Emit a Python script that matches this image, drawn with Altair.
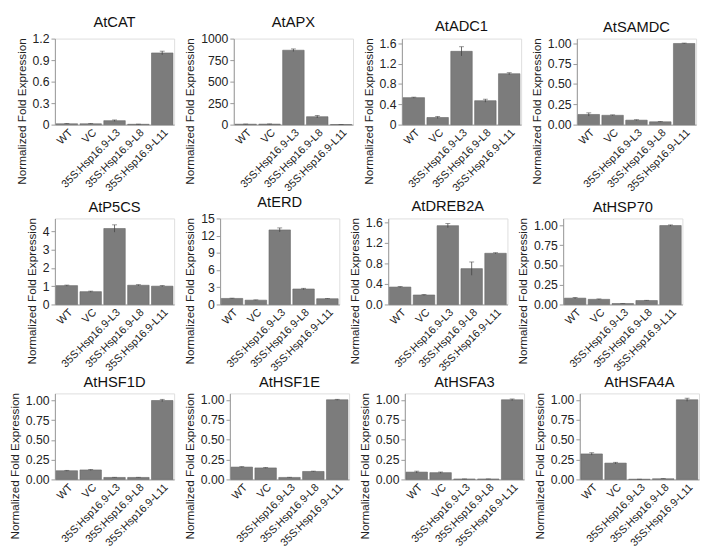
import altair as alt
import pandas as pd

categories = ["WT", "VC", "35S:Hsp16.9-L3", "35S:Hsp16.9-L8", "35S:Hsp16.9-L11"]
genes = ["AtCAT", "AtAPX", "AtADC1", "AtSAMDC",
         "AtP5CS", "AtERD", "AtDREB2A", "AtHSP70",
         "AtHSF1D", "AtHSF1E", "AtHSFA3", "AtHSFA4A"]

mean_CAT = [0.012, 0.012, 0.055, 0.005, 1.0]
err_CAT = [0.004, 0.004, 0.010, 0.002, 0.025]
mean_APX = [5, 6, 865, 92, 1]
err_APX = [2, 2, 15, 15, 0.5]
mean_ADC1 = [0.53, 0.14, 1.44, 0.47, 1.0]
err_ADC1 = [0.01, 0.02, 0.09, 0.03, 0.02]
mean_SAMDC = [0.125, 0.115, 0.055, 0.035, 1.0]
err_SAMDC = [0.02, 0.005, 0.005, 0.004, 0.005]
mean_P5CS = [1.03, 0.70, 4.15, 1.05, 1.0]
err_P5CS = [0.03, 0.03, 0.2, 0.03, 0.03]
mean_ERD = [1.05, 0.75, 13.0, 2.7, 1.0]
err_ERD = [0.05, 0.05, 0.35, 0.12, 0.04]
mean_DREB2A = [0.34, 0.185, 1.54, 0.70, 1.0]
err_DREB2A = [0.01, 0.01, 0.04, 0.13, 0.01]
mean_HSP70 = [0.08, 0.065, 0.012, 0.05, 1.0]
err_HSP70 = [0.008, 0.005, 0.002, 0.003, 0.008]
mean_HSF1D = [0.11, 0.12, 0.025, 0.025, 1.0]
err_HSF1D = [0.005, 0.006, 0.002, 0.002, 0.015]
mean_HSF1E = [0.155, 0.145, 0.025, 0.10, 1.0]
err_HSF1E = [0.005, 0.005, 0.002, 0.004, 0.006]
mean_HSFA3 = [0.092, 0.085, 0.005, 0.005, 1.0]
err_HSFA3 = [0.012, 0.008, 0.001, 0.001, 0.01]
mean_HSFA4A = [0.32, 0.205, 0.002, 0.008, 1.0]
err_HSFA4A = [0.015, 0.01, 0.001, 0.002, 0.02]

means = [mean_CAT, mean_APX, mean_ADC1, mean_SAMDC, mean_P5CS, mean_ERD,
         mean_DREB2A, mean_HSP70, mean_HSF1D, mean_HSF1E, mean_HSFA3, mean_HSFA4A]
errs = [err_CAT, err_APX, err_ADC1, err_SAMDC, err_P5CS, err_ERD,
        err_DREB2A, err_HSP70, err_HSF1D, err_HSF1E, err_HSFA3, err_HSFA4A]

y_max = [1.2, 1000, 1.69, 1.06, 4.7, 15, 1.68, 1.09, 1.09, 1.08, 1.08, 1.08]
y_ticks = [
    [0, 0.3, 0.6, 0.9, 1.2],
    [0, 250, 500, 750, 1000],
    [0, 0.4, 0.8, 1.2, 1.6],
    [0, 0.25, 0.5, 0.75, 1.0],
    [0, 1, 2, 3, 4],
    [0, 3, 6, 9, 12, 15],
    [0, 0.4, 0.8, 1.2, 1.6],
    [0, 0.25, 0.5, 0.75, 1.0],
    [0, 0.25, 0.5, 0.75, 1.0],
    [0, 0.25, 0.5, 0.75, 1.0],
    [0, 0.25, 0.5, 0.75, 1.0],
    [0, 0.25, 0.5, 0.75, 1.0],
]
y_format = ["z1", "d", "z1", "2", "d", "d", "1", "2", "2", "2", "2", "2"]

W = 122
H = 88
BAR = "#7c7c7c"
FONT = "Liberation Sans"


def label_expr(f):
    if f == "z1":
        return "datum.value == 0 ? '0' : format(datum.value, '.1f')"
    if f == "d":
        return "format(datum.value, 'd')"
    if f == "1":
        return "format(datum.value, '.1f')"
    return "format(datum.value, '.2f')"


def panel(i):
    df = pd.DataFrame({"cat": categories, "val": means[i], "err": errs[i]})
    df["lo"] = (df["val"] - df["err"]).clip(lower=0)
    df["hi"] = df["val"] + df["err"]
    yscale = alt.Scale(domain=[0, y_max[i]], nice=False, zero=True)
    yaxis = alt.Axis(values=y_ticks[i], labelExpr=label_expr(y_format[i]),
                     grid=False, domainColor="#999999", tickColor="#999999",
                     tickSize=4, labelFontSize=12.5, labelColor="#222222",
                     labelOverlap=False, labelBound=False,
                     titleFontSize=12, titleFontWeight="normal",
                     titleColor="#222222", titleY=H / 2 + 30, titlePadding=4)
    xaxis = alt.Axis(labelAngle=-45, ticks=False, domainColor="#999999",
                     labelFontSize=11, labelColor="#222222", labelPadding=2,
                     labelOverlap=False, labelBound=False)
    xscale = alt.Scale(paddingInner=0.1, paddingOuter=0.05)
    x = alt.X("cat:N", sort=categories, title=None, scale=xscale, axis=xaxis)
    title = "Normalized Fold Expression"
    base = alt.Chart(df)
    bars = base.mark_bar(color=BAR, stroke="#666666", strokeWidth=0.6).encode(
        x=x, y=alt.Y("val:Q", scale=yscale, title=title, axis=yaxis))
    rule = base.mark_rule(color="#444444", strokeWidth=0.8).encode(
        x=x, y=alt.Y("lo:Q", scale=yscale, title=title, axis=yaxis), y2="hi:Q")
    cap = base.mark_tick(color="#444444", thickness=0.8, size=5, orient="horizontal").encode(
        x=x, y=alt.Y("hi:Q", scale=yscale, title=title, axis=yaxis))
    return alt.layer(bars, rule, cap).properties(
        width=W, height=H,
        title=alt.TitleParams(genes[i], fontSize=15, fontWeight="normal", font=FONT,
                              color="#111111", offset=3))


rows = []
for r in range(3):
    rows.append(alt.hconcat(*[panel(r * 4 + c) for c in range(4)], spacing=8))
chart = alt.vconcat(*rows, spacing=0).configure_view(stroke=None).configure_axis(
    labelFont=FONT, titleFont=FONT).configure(background="white", padding=0)

chart.save("out.html", embed_options={"renderer": "svg", "actions": False})
